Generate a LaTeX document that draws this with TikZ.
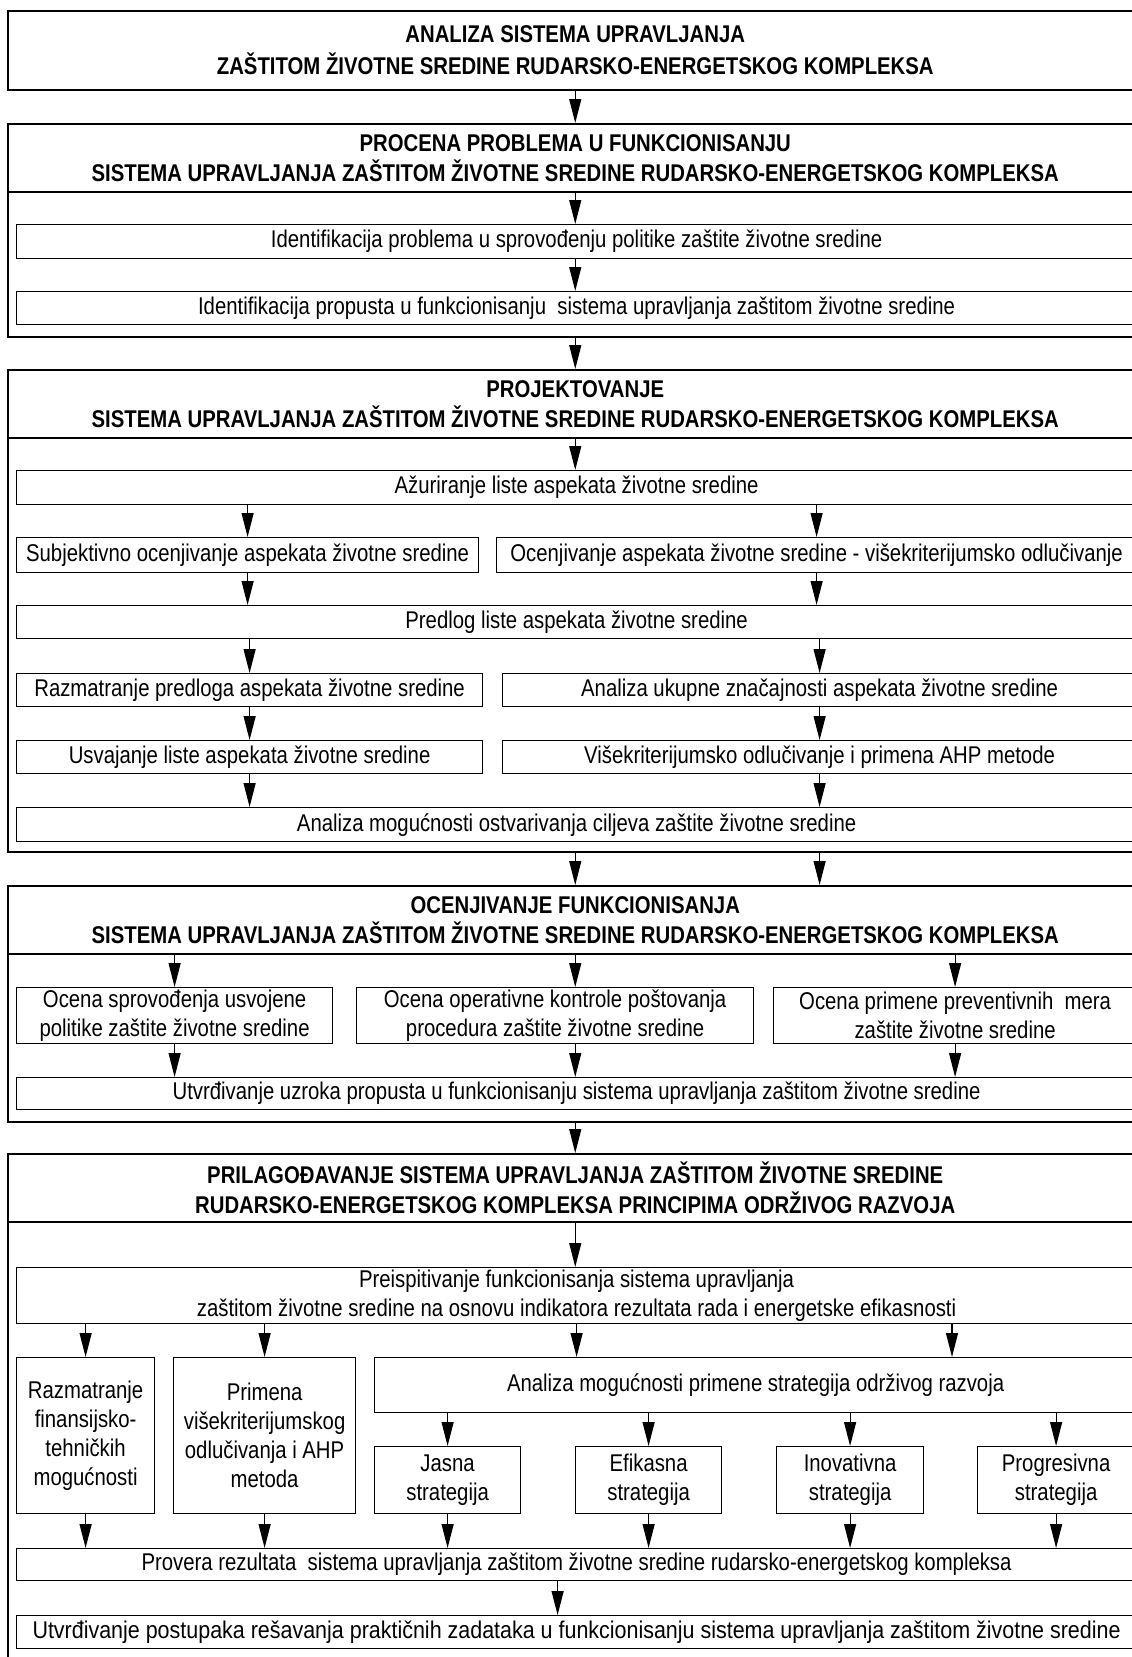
\documentclass[tikz,border=0pt]{standalone}
\usepackage{fontspec}
\setmainfont{Liberation Sans}[FakeStretch=0.84]
\usetikzlibrary{arrows.meta, positioning, calc}
\newcommand\tekstfont{\fontsize{24.2}{29}\selectfont}
\newcommand\naslovfont{\bfseries\fontsize{24.2}{30}\selectfont}

\begin{document}
\begin{tikzpicture}[x=1pt,y=-1pt,
  okvir/.style={rectangle,draw,line width=1.5pt,anchor=north west,
                minimum width=1135pt,inner sep=0pt},
  zaglavlje/.style={rectangle,draw,line width=1.5pt,anchor=north west,
                    minimum width=1135pt,minimum height=68pt,align=center,font=\naslovfont},
  kutija/.style={rectangle,draw,line width=1.2pt,anchor=north west,
                 align=center,font=\tekstfont,inner sep=2pt},
  strelica/.style={-{Triangle[length=24pt,width=12pt]},line width=1.2pt}
]
  \path[use as bounding box] (0,0) rectangle (1132,1657);
  \clip (0,0) rectangle (1132,1657);

  \node[okvir,minimum height=79pt,align=center,font=\bfseries\fontsize{24.2}{32}\selectfont] (analiza) at (7,10)
    {ANALIZA SISTEMA UPRAVLJANJA\\ZAŠTITOM ŽIVOTNE SREDINE RUDARSKO-ENERGETSKOG KOMPLEKSA};

  \node[okvir,minimum height=213pt] (procena) at (7,123) {};
  \node[zaglavlje] (procenaZ) at (7,123)
    {PROCENA PROBLEMA U FUNKCIONISANJU\\SISTEMA UPRAVLJANJA ZAŠTITOM ŽIVOTNE SREDINE RUDARSKO-ENERGETSKOG KOMPLEKSA};
  \node[kutija,minimum width=1120pt,minimum height=34pt] (idProblema) at (16,224)
    {Identifikacija problema u sprovođenju politike zaštite životne sredine};
  \node[kutija,minimum width=1120pt,minimum height=33pt] (idPropusta) at (16,291)
    {Identifikacija propusta u funkcionisanju\ \ sistema upravljanja zaštitom životne sredine};

  \node[okvir,minimum height=482pt] (projekt) at (7,369) {};
  \node[zaglavlje] (projektZ) at (7,369)
    {PROJEKTOVANJE\\SISTEMA UPRAVLJANJA ZAŠTITOM ŽIVOTNE SREDINE RUDARSKO-ENERGETSKOG KOMPLEKSA};
  \node[kutija,minimum width=1120pt,minimum height=34pt] (azur) at (16,470)
    {Ažuriranje liste aspekata životne sredine};
  \node[kutija,minimum width=462pt,minimum height=35pt] (subj) at (16,537)
    {Subjektivno ocenjivanje aspekata životne sredine};
  \node[kutija,minimum width=640pt,minimum height=35pt] (ocenAsp) at (496,537)
    {Ocenjivanje aspekata životne sredine - višekriterijumsko odlučivanje};
  \node[kutija,minimum width=1120pt,minimum height=33pt] (predlog) at (16,605)
    {Predlog liste aspekata životne sredine};
  \node[kutija,minimum width=466pt,minimum height=33pt] (razmPred) at (16,673)
    {Razmatranje predloga aspekata životne sredine};
  \node[kutija,minimum width=634pt,minimum height=33pt] (ukZnac) at (502,673)
    {Analiza ukupne značajnosti aspekata životne sredine};
  \node[kutija,minimum width=466pt,minimum height=33pt] (usvajanje) at (16,740)
    {Usvajanje liste aspekata životne sredine};
  \node[kutija,minimum width=634pt,minimum height=33pt] (ahp) at (502,740)
    {Višekriterijumsko odlučivanje i primena AHP metode};
  \node[kutija,minimum width=1120pt,minimum height=34pt] (ciljevi) at (16,807)
    {Analiza mogućnosti ostvarivanja ciljeva zaštite životne sredine};

  \node[okvir,minimum height=236pt] (ocenjivanje) at (7,885) {};
  \node[zaglavlje] (ocenjivanjeZ) at (7,885)
    {OCENJIVANJE FUNKCIONISANJA\\SISTEMA UPRAVLJANJA ZAŠTITOM ŽIVOTNE SREDINE RUDARSKO-ENERGETSKOG KOMPLEKSA};
  \node[kutija,minimum width=316pt,minimum height=56pt] (oc1) at (16,987)
    {Ocena sprovođenja usvojene\\politike zaštite životne sredine};
  \node[kutija,minimum width=397pt,minimum height=56pt] (oc2) at (356,987)
    {Ocena operativne kontrole poštovanja\\procedura zaštite životne sredine};
  \node[kutija,minimum width=363pt,minimum height=56pt] (oc3) at (773,987)
    {Ocena primene preventivnih\ \ mera\\zaštite životne sredine};
  \node[kutija,minimum width=1120pt,minimum height=32pt] (utvUzroka) at (16,1077)
    {Utvrđivanje uzroka propusta u funkcionisanju sistema upravljanja zaštitom životne sredine};

  \node[okvir,minimum height=527pt] (prilag) at (7,1153) {};
  \node[zaglavlje] (prilagZ) at (7,1153)
    {PRILAGOĐAVANJE SISTEMA UPRAVLJANJA ZAŠTITOM ŽIVOTNE SREDINE\\RUDARSKO-ENERGETSKOG KOMPLEKSA PRINCIPIMA ODRŽIVOG RAZVOJA};
  \node[kutija,minimum width=1120pt,minimum height=56pt] (preisp) at (16,1267)
    {Preispitivanje funkcionisanja sistema upravljanja\\zaštitom životne sredine na osnovu indikatora rezultata rada i energetske efikasnosti};
  \node[kutija,minimum width=138pt,minimum height=156pt] (finTeh) at (16,1357)
    {Razmatranje\\finansijsko-\\tehničkih\\mogućnosti};
  \node[kutija,minimum width=182pt,minimum height=156pt] (primAhp) at (173,1357)
    {Primena\\višekriterijumskog\\odlučivanja i AHP\\metoda};
  \node[kutija,minimum width=762pt,minimum height=55pt] (strategije) at (374,1357)
    {Analiza mogućnosti primene strategija održivog razvoja};
  \node[kutija,minimum width=146pt,minimum height=67pt] (jasna) at (374,1446) {Jasna\\strategija};
  \node[kutija,minimum width=146pt,minimum height=67pt] (efikasna) at (575,1446) {Efikasna\\strategija};
  \node[kutija,minimum width=147pt,minimum height=67pt] (inovativna) at (776,1446) {Inovativna\\strategija};
  \node[kutija,minimum width=157pt,minimum height=67pt] (progresivna) at (977,1446) {Progresivna\\strategija};
  \node[kutija,minimum width=1120pt,minimum height=32pt] (provera) at (16,1548)
    {Provera rezultata\ \ sistema upravljanja zaštitom životne sredine rudarsko-energetskog kompleksa};
  \node[kutija,minimum width=1120pt,minimum height=33pt,font=\tekstfont\addfontfeature{FakeStretch=0.887}] (postupci) at (16,1615)
    {Utvrđivanje postupaka rešavanja praktičnih zadataka u funkcionisanju sistema upravljanja zaštitom životne sredine};
  \coordinate (desno) at (952,1323);
  \coordinate (provSred) at ([xshift=-19pt]provera.south);

  \draw[strelica] (analiza.south) -- (analiza.south |- procena.north);
  \draw[strelica] (procenaZ.south) -- (procenaZ.south |- idProblema.north);
  \draw[strelica] (procenaZ.south |- idProblema.south) -- (procenaZ.south |- idPropusta.north);
  \draw[strelica] (procena.south) -- (procena.south |- projekt.north);

  \draw[strelica] (projektZ.south) -- (projektZ.south |- azur.north);
  \draw[strelica] (subj.north |- azur.south) -- (subj.north);
  \draw[strelica] (ocenAsp.north |- azur.south) -- (ocenAsp.north);
  \draw[strelica] (subj.south) -- (subj.south |- predlog.north);
  \draw[strelica] (ocenAsp.south) -- (ocenAsp.south |- predlog.north);
  \draw[strelica] (razmPred.north |- predlog.south) -- (razmPred.north);
  \draw[strelica] (ukZnac.north |- predlog.south) -- (ukZnac.north);
  \draw[strelica] (razmPred.south) -- (usvajanje.north);
  \draw[strelica] (ukZnac.south) -- (ahp.north);
  \draw[strelica] (usvajanje.south) -- (usvajanje.south |- ciljevi.north);
  \draw[strelica] (ahp.south) -- (ahp.south |- ciljevi.north);
  \draw[strelica] (projekt.south) -- (projekt.south |- ocenjivanje.north);
  \draw[strelica] (ahp.south |- projekt.south) -- (ahp.south |- ocenjivanje.north);

  \draw[strelica] (oc1.north |- ocenjivanjeZ.south) -- (oc1.north);
  \draw[strelica] (ocenjivanjeZ.south) -- (ocenjivanjeZ.south |- oc2.north);
  \draw[strelica] (oc3.north |- ocenjivanjeZ.south) -- (oc3.north);
  \draw[strelica] (oc1.south) -- (oc1.south |- utvUzroka.north);
  \draw[strelica] (ocenjivanjeZ.south |- oc2.south) -- (ocenjivanjeZ.south |- utvUzroka.north);
  \draw[strelica] (oc3.south) -- (oc3.south |- utvUzroka.north);
  \draw[strelica] (ocenjivanje.south) -- (ocenjivanje.south |- prilag.north);

  \draw[strelica] (prilagZ.south) -- (prilagZ.south |- preisp.north);
  \draw[strelica] (finTeh.north |- preisp.south) -- (finTeh.north);
  \draw[strelica] (primAhp.north |- preisp.south) -- (primAhp.north);
  \draw[strelica] (preisp.south) -- (preisp.south |- strategije.north);
  \draw[strelica] (desno) -- (desno |- strategije.north);
  \foreach \s in {jasna,efikasna,inovativna,progresivna}
    \draw[strelica] (\s.north |- strategije.south) -- (\s.north);
  \foreach \s in {finTeh,primAhp,jasna,efikasna,inovativna,progresivna}
    \draw[strelica] (\s.south) -- (\s.south |- provera.north);
  \draw[strelica] (provSred) -- (provSred |- postupci.north);
\end{tikzpicture}
\end{document}
